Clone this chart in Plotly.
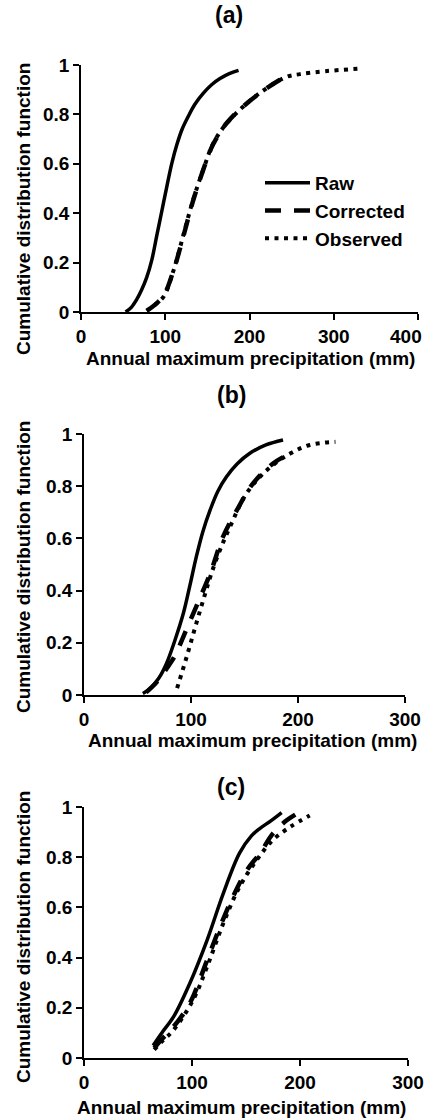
import plotly.graph_objects as go

# ---------------- data ----------------
# Panel (a)
raw_a_x = [53, 60, 66, 72, 78, 84, 90, 96, 102, 108, 114, 120, 127, 135, 145, 155, 165, 176, 187]
raw_a_y = [0.0, 0.02, 0.05, 0.09, 0.14, 0.21, 0.31, 0.41, 0.51, 0.605, 0.68, 0.74, 0.79, 0.84, 0.885, 0.92, 0.945, 0.965, 0.978]
cor_a_x = [78, 88, 98, 110, 121, 133, 145, 157, 173, 197, 220, 245]
cor_a_y = [0.005, 0.03, 0.065, 0.17, 0.30, 0.45, 0.575, 0.68, 0.765, 0.845, 0.905, 0.958]
obs_a_x = [78, 88, 98, 110, 121, 133, 145, 157, 173, 197, 220, 244, 260, 290, 333]
obs_a_y = [0.005, 0.03, 0.062, 0.17, 0.305, 0.453, 0.575, 0.683, 0.764, 0.845, 0.905, 0.952, 0.963, 0.975, 0.986]

# Panel (b)
raw_b_x = [55, 62, 70, 77, 85, 93, 99, 105, 111, 118, 125, 133, 143, 155, 170, 186]
raw_b_y = [0.006, 0.025, 0.065, 0.12, 0.21, 0.315, 0.42, 0.53, 0.625, 0.71, 0.78, 0.835, 0.885, 0.926, 0.958, 0.977]
cor_b_x = [58, 68, 77, 85, 93, 105, 118, 130, 143, 158, 177, 190]
cor_b_y = [0.01, 0.05, 0.10, 0.15, 0.225, 0.34, 0.466, 0.607, 0.709, 0.811, 0.888, 0.92]
obs_b_x = [87, 96, 105, 113, 119, 127, 136, 152, 171, 193, 211, 235]
obs_b_y = [0.026, 0.147, 0.275, 0.385, 0.465, 0.555, 0.64, 0.773, 0.862, 0.926, 0.958, 0.97]

# Panel (c)
raw_c_x = [64, 72, 83, 98, 114, 129, 144, 155, 163, 173, 183]
raw_c_y = [0.05, 0.10, 0.165, 0.298, 0.47, 0.656, 0.816, 0.885, 0.915, 0.945, 0.978]
cor_c_x = [65, 72, 83, 98, 114, 126, 138, 151, 163, 175, 188, 200]
cor_c_y = [0.04, 0.075, 0.125, 0.218, 0.39, 0.523, 0.643, 0.749, 0.816, 0.895, 0.948, 0.981]
obs_c_x = [65, 72, 83, 101, 114, 129, 144, 160, 175, 191, 209]
obs_c_y = [0.033, 0.065, 0.112, 0.231, 0.364, 0.537, 0.682, 0.789, 0.869, 0.921, 0.966]

series_names = ["Raw", "Corrected", "Observed"]
panel_titles = ["(a)", "(b)", "(c)"]
x_title = "Annual maximum precipitation (mm)"
y_title = "Cumulative distribution function"
y_ticks = [0, 0.2, 0.4, 0.6, 0.8, 1]
y_ticklabels = ["0", "0.2", "0.4", "0.6", "0.8", "1"]
x_ticks_a = [0, 100, 200, 300, 400]
x_ticklabels_a = ["0", "100", "200", "300", ""]   # last label drawn nudged left (as in the reference)
x_last_label_a = "400"
x_ticks_bc = [0, 100, 200, 300]
x_ticklabels_bc = ["0", "100", "200", "300"]

# ---------------- figure ----------------
W, H = 430, 1120
FONT = "Liberation Sans, Arial, sans-serif"

styles = {
    "Raw": dict(color="black", width=3.5, dash="solid"),
    "Corrected": dict(color="black", width=4.5, dash="16px,13px"),
    "Observed": dict(color="black", width=4, dash="4px,5.5px"),
}

panels = [
    (raw_a_x, raw_a_y, cor_a_x, cor_a_y, obs_a_x, obs_a_y),
    (raw_b_x, raw_b_y, cor_b_x, cor_b_y, obs_b_x, obs_b_y),
    (raw_c_x, raw_c_y, cor_c_x, cor_c_y, obs_c_x, obs_c_y),
]

fig = go.Figure()
for i, (rx, ry, cx, cy, ox, oy) in enumerate(panels):
    suffix = "" if i == 0 else str(i + 1)
    for name, xs, ys in zip(series_names, [rx, cx, ox], [ry, cy, oy]):
        fig.add_trace(go.Scatter(
            x=xs, y=ys, mode="lines", name=name,
            line=dict(shape="spline", smoothing=1.0, **styles[name]),
            xaxis="x" + suffix, yaxis="y" + suffix,
            showlegend=(i == 0), legendgroup=name,
            hoverinfo="skip",
        ))


def px_x(p):
    return p / W


def px_y(p):
    return 1 - p / H


domains = [
    dict(x=(px_x(81), px_x(418)), y=(px_y(312), px_y(65)), xr=[0, 400], xt=x_ticks_a, xl=x_ticklabels_a),
    dict(x=(px_x(84), px_x(405)), y=(px_y(695), px_y(434)), xr=[0, 300], xt=x_ticks_bc, xl=x_ticklabels_bc),
    dict(x=(px_x(84), px_x(408)), y=(px_y(1058), px_y(807)), xr=[0, 300], xt=x_ticks_bc, xl=x_ticklabels_bc),
]

TICK_SIZE = 19
axis_common = dict(
    showline=True, linecolor="black", linewidth=1.6,
    ticks="outside", ticklen=6, tickwidth=1.6, tickcolor="black",
    showgrid=False, zeroline=False, mirror=False, automargin=False,
    tickfont=dict(family=FONT, size=TICK_SIZE, color="black", weight="bold"),
)

layout_axes = {}
for i, d in enumerate(domains):
    suffix = "" if i == 0 else str(i + 1)
    layout_axes["xaxis" + suffix] = dict(
        domain=list(d["x"]), range=d["xr"], tickvals=d["xt"], ticktext=d["xl"],
        anchor="y" + suffix, **axis_common)
    layout_axes["yaxis" + suffix] = dict(
        domain=list(d["y"]), range=[0, 1], tickvals=y_ticks, ticktext=y_ticklabels,
        anchor="x" + suffix, **axis_common)

annotations = []
title_pos = [(229, 15), (231, 395), (231, 787)]
xt_pos = [(250, 358), (253, 740), (241, 1107)]
yt_pos = [(23, 209), (23, 567), (23, 937)]
for i in range(3):
    annotations.append(dict(
        text=panel_titles[i], x=px_x(title_pos[i][0]), y=px_y(title_pos[i][1]),
        xref="paper", yref="paper", xanchor="center", yanchor="middle", showarrow=False,
        font=dict(family=FONT, size=23, color="black", weight="bold")))
    annotations.append(dict(
        text=x_title, x=px_x(xt_pos[i][0]), y=px_y(xt_pos[i][1]),
        xref="paper", yref="paper", xanchor="center", yanchor="middle", showarrow=False,
        font=dict(family=FONT, size=19, color="black", weight="bold")))
    annotations.append(dict(
        text=y_title, x=px_x(yt_pos[i][0]), y=px_y(yt_pos[i][1]), textangle=-90,
        xref="paper", yref="paper", xanchor="center", yanchor="middle", showarrow=False,
        font=dict(family=FONT, size=19, color="black", weight="bold")))

# last x tick label of panel (a), anchored to its tick value and nudged inside the figure
annotations.append(dict(
    text=x_last_label_a, x=x_ticks_a[-1], xref="x", y=0, yref="y",
    xanchor="right", yanchor="top", xshift=6, yshift=-12, showarrow=False,
    font=dict(family=FONT, size=TICK_SIZE, color="black", weight="bold")))

fig.update_layout(
    width=W, height=H,
    margin=dict(l=0, r=0, t=0, b=0, autoexpand=False),
    paper_bgcolor="white", plot_bgcolor="white",
    showlegend=True,
    legend=dict(
        x=px_x(260), y=px_y(164), xanchor="left", yanchor="top",
        bgcolor="rgba(0,0,0,0)", borderwidth=0,
        font=dict(family=FONT, size=19, color="black", weight="bold"),
        traceorder="grouped", tracegroupgap=0, itemwidth=45,
    ),
    annotations=annotations,
    **layout_axes,
)

fig.write_html("out.html", config={"displayModeBar": False},
               post_script="document.body.style.margin='0';")
